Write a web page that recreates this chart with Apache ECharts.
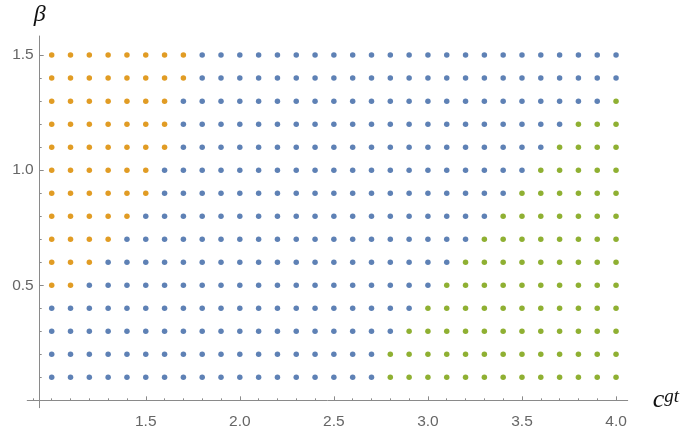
<!DOCTYPE html>
<html>
<head>
<meta charset="utf-8">
<script src="https://cdn.jsdelivr.net/npm/echarts@6/dist/echarts.min.js"></script>
<style>
  html, body { margin: 0; padding: 0; background: #fff; }
  #chart { width: 687px; height: 432px; }
</style>
</head>
<body>
<div id="chart"></div>
<script>
// grid of parameter values (columns = c^gt, rows = beta)
const cValues = [1.0, 1.1, 1.2, 1.3, 1.4, 1.5, 1.6, 1.7, 1.8, 1.9, 2.0, 2.1, 2.2, 2.3, 2.4, 2.5,
  2.6, 2.7, 2.8, 2.9, 3.0, 3.1, 3.2, 3.3, 3.4, 3.5, 3.6, 3.7, 3.8, 3.9, 4.0];
const betaValues = [0.1, 0.2, 0.3, 0.4, 0.5, 0.6, 0.7, 0.8, 0.9, 1.0, 1.1, 1.2, 1.3, 1.4, 1.5];

// per beta row: last c that is orange, first c that is green (null = none)
const orangeLastC = [null, null, null, null, 1.1, 1.2, 1.3, 1.4, 1.5, 1.5, 1.6, 1.6, 1.6, 1.7, 1.7];
const greenFirstC = [2.8, 2.8, 2.9, 3.0, 3.1, 3.2, 3.3, 3.4, 3.5, 3.6, 3.7, 3.8, 4.0, null, null];

const xMajorTicks = [1.5, 2.0, 2.5, 3.0, 3.5, 4.0];
const xMinorTicks = [0.9, 1.0, 1.1, 1.2, 1.3, 1.4, 1.5, 1.6, 1.7, 1.8, 1.9, 2.0, 2.1, 2.2, 2.3, 2.4,
  2.5, 2.6, 2.7, 2.8, 2.9, 3.0, 3.1, 3.2, 3.3, 3.4, 3.5, 3.6, 3.7, 3.8, 3.9, 4.0];
const yMajorTicks = [0.5, 1.0, 1.5];
const yMinorTicks = [0.1, 0.2, 0.3, 0.4, 0.5, 0.6, 0.7, 0.8, 0.9, 1.0, 1.1, 1.2, 1.3, 1.4, 1.5];

const blueColor = '#5e81b5';
const orangeColor = '#e19c24';
const greenColor = '#8fb032';
const axisColor = '#8a8a8a';
const labelColor = '#666666';

const bluePoints = [];
const orangePoints = [];
const greenPoints = [];
betaValues.forEach((b, i) => {
  cValues.forEach(c => {
    if (orangeLastC[i] !== null && c <= orangeLastC[i] + 1e-9) {
      orangePoints.push([c, b]);
    } else if (greenFirstC[i] !== null && c >= greenFirstC[i] - 1e-9) {
      greenPoints.push([c, b]);
    } else {
      bluePoints.push([c, b]);
    }
  });
});

const chart = echarts.init(document.getElementById('chart'), null, { renderer: 'canvas' });

const xMin = 0.87, xMax = 4.062;
const yMin = -0.032, yMax = 1.583;

const tickLabel = {
  color: labelColor,
  fontFamily: 'Liberation Sans',
  fontSize: 15.5,
  formatter: v => v.toFixed(1)
};

chart.setOption({
  animation: false,
  grid: { left: 27.25, right: 59.3, top: 36, bottom: 24.3, containLabel: false },
  xAxis: [
    {
      type: 'value',
      min: xMin,
      max: xMax,
      position: 'bottom',
      axisLine: { show: true, onZero: true, lineStyle: { color: axisColor, width: 1 } },
      axisTick: { show: true, inside: true, length: 4, customValues: xMajorTicks, lineStyle: { color: axisColor } },
      axisLabel: { ...tickLabel, margin: 6, customValues: xMajorTicks },
      splitLine: { show: false },
      name: '{c|c}{s|gt}',
      nameLocation: 'end',
      nameGap: 25,
      nameTextStyle: {
        rich: {
          c: { fontFamily: 'Liberation Serif', fontStyle: 'italic', fontSize: 26, color: '#111' },
          s: { fontFamily: 'Liberation Serif', fontStyle: 'italic', fontSize: 19, color: '#111', verticalAlign: 'top', padding: [0, 0, 6, 0] }
        }
      }
    },
    {
      type: 'value',
      min: xMin,
      max: xMax,
      position: 'bottom',
      axisLine: { show: false, onZero: true },
      axisTick: { show: true, inside: true, length: 2, customValues: xMinorTicks, lineStyle: { color: axisColor } },
      axisLabel: { show: false },
      splitLine: { show: false }
    }
  ],
  yAxis: [
    {
      type: 'value',
      min: yMin,
      max: yMax,
      position: 'left',
      offset: -12.45,
      axisLine: { show: true, onZero: false, lineStyle: { color: axisColor, width: 1 } },
      axisTick: { show: true, inside: true, length: 4, customValues: yMajorTicks, lineStyle: { color: axisColor } },
      axisLabel: { ...tickLabel, margin: 6, customValues: yMajorTicks },
      splitLine: { show: false },
      name: 'β',
      nameLocation: 'end',
      nameGap: 9,
      nameTextStyle: { fontFamily: 'Liberation Serif', fontStyle: 'italic', fontSize: 24, color: '#111' }
    },
    {
      type: 'value',
      min: yMin,
      max: yMax,
      position: 'left',
      offset: -12.45,
      axisLine: { show: false, onZero: false },
      axisTick: { show: true, inside: true, length: 2, customValues: yMinorTicks, lineStyle: { color: axisColor } },
      axisLabel: { show: false },
      splitLine: { show: false }
    }
  ],
  series: [
    { type: 'scatter', name: 'blue', data: bluePoints, symbolSize: 5.5, itemStyle: { color: blueColor, opacity: 1 } },
    { type: 'scatter', name: 'orange', data: orangePoints, symbolSize: 5.5, itemStyle: { color: orangeColor, opacity: 1 } },
    { type: 'scatter', name: 'green', data: greenPoints, symbolSize: 5.5, itemStyle: { color: greenColor, opacity: 1 } }
  ]
});
</script>
</body>
</html>
